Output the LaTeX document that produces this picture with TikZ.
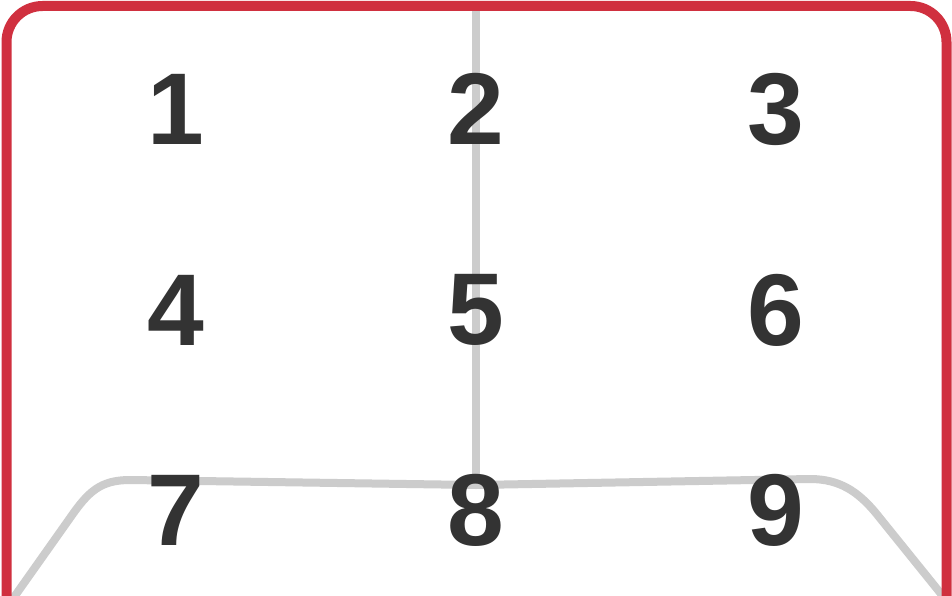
\documentclass[tikz,border=0pt]{standalone}
\usepackage{fontspec}
\setmainfont{Liberation Sans}
\definecolor{goalred}{HTML}{D0303F}
\definecolor{linegray}{HTML}{CCCCCC}
\definecolor{digit}{HTML}{333333}
\tikzset{
  num/.style={inner sep=0pt, text=digit, font=\fontsize{102}{102}\selectfont\bfseries},
  frame/.style={draw=goalred, line width=10pt},
  gline/.style={draw=linegray, line width=8pt}
}
\begin{document}
\begin{tikzpicture}[x=1pt,y=-1pt]
\useasboundingbox (0,0) rectangle (952,596);
\fill[white] (0,0) rectangle (952,596);
% gray field lines
\draw[gline] (476,8) -- (476,485);
\draw[gline] (12,600) -- (70,518) .. controls (88,492) and (100,480) .. (130,480) -- (476,485) -- (810,479) .. controls (840,479) and (858,492) .. (875,512) -- (946,600);
% frame
\draw[frame, rounded corners=36pt] (6.5,620) -- (6.5,6) -- (946.5,6) -- (946.5,620);
\draw[white!85!goalred, line width=1.2pt] (400,0.4) -- (552,0.4);
% numbers
\node[num] (n1) at (176,109) {1};
\node[num] (n2) at (476,109) {2};
\node[num] (n3) at (776,109) {3};
\node[num] (n4) at (176,310) {4};
\node[num] (n5) at (476,310) {5};
\node[num] (n6) at (776,310) {6};
\node[num] (n7) at (176,510) {7};
\node[num] (n8) at (476,510) {8};
\node[num] (n9) at (776,510) {9};
\end{tikzpicture}
\end{document}
